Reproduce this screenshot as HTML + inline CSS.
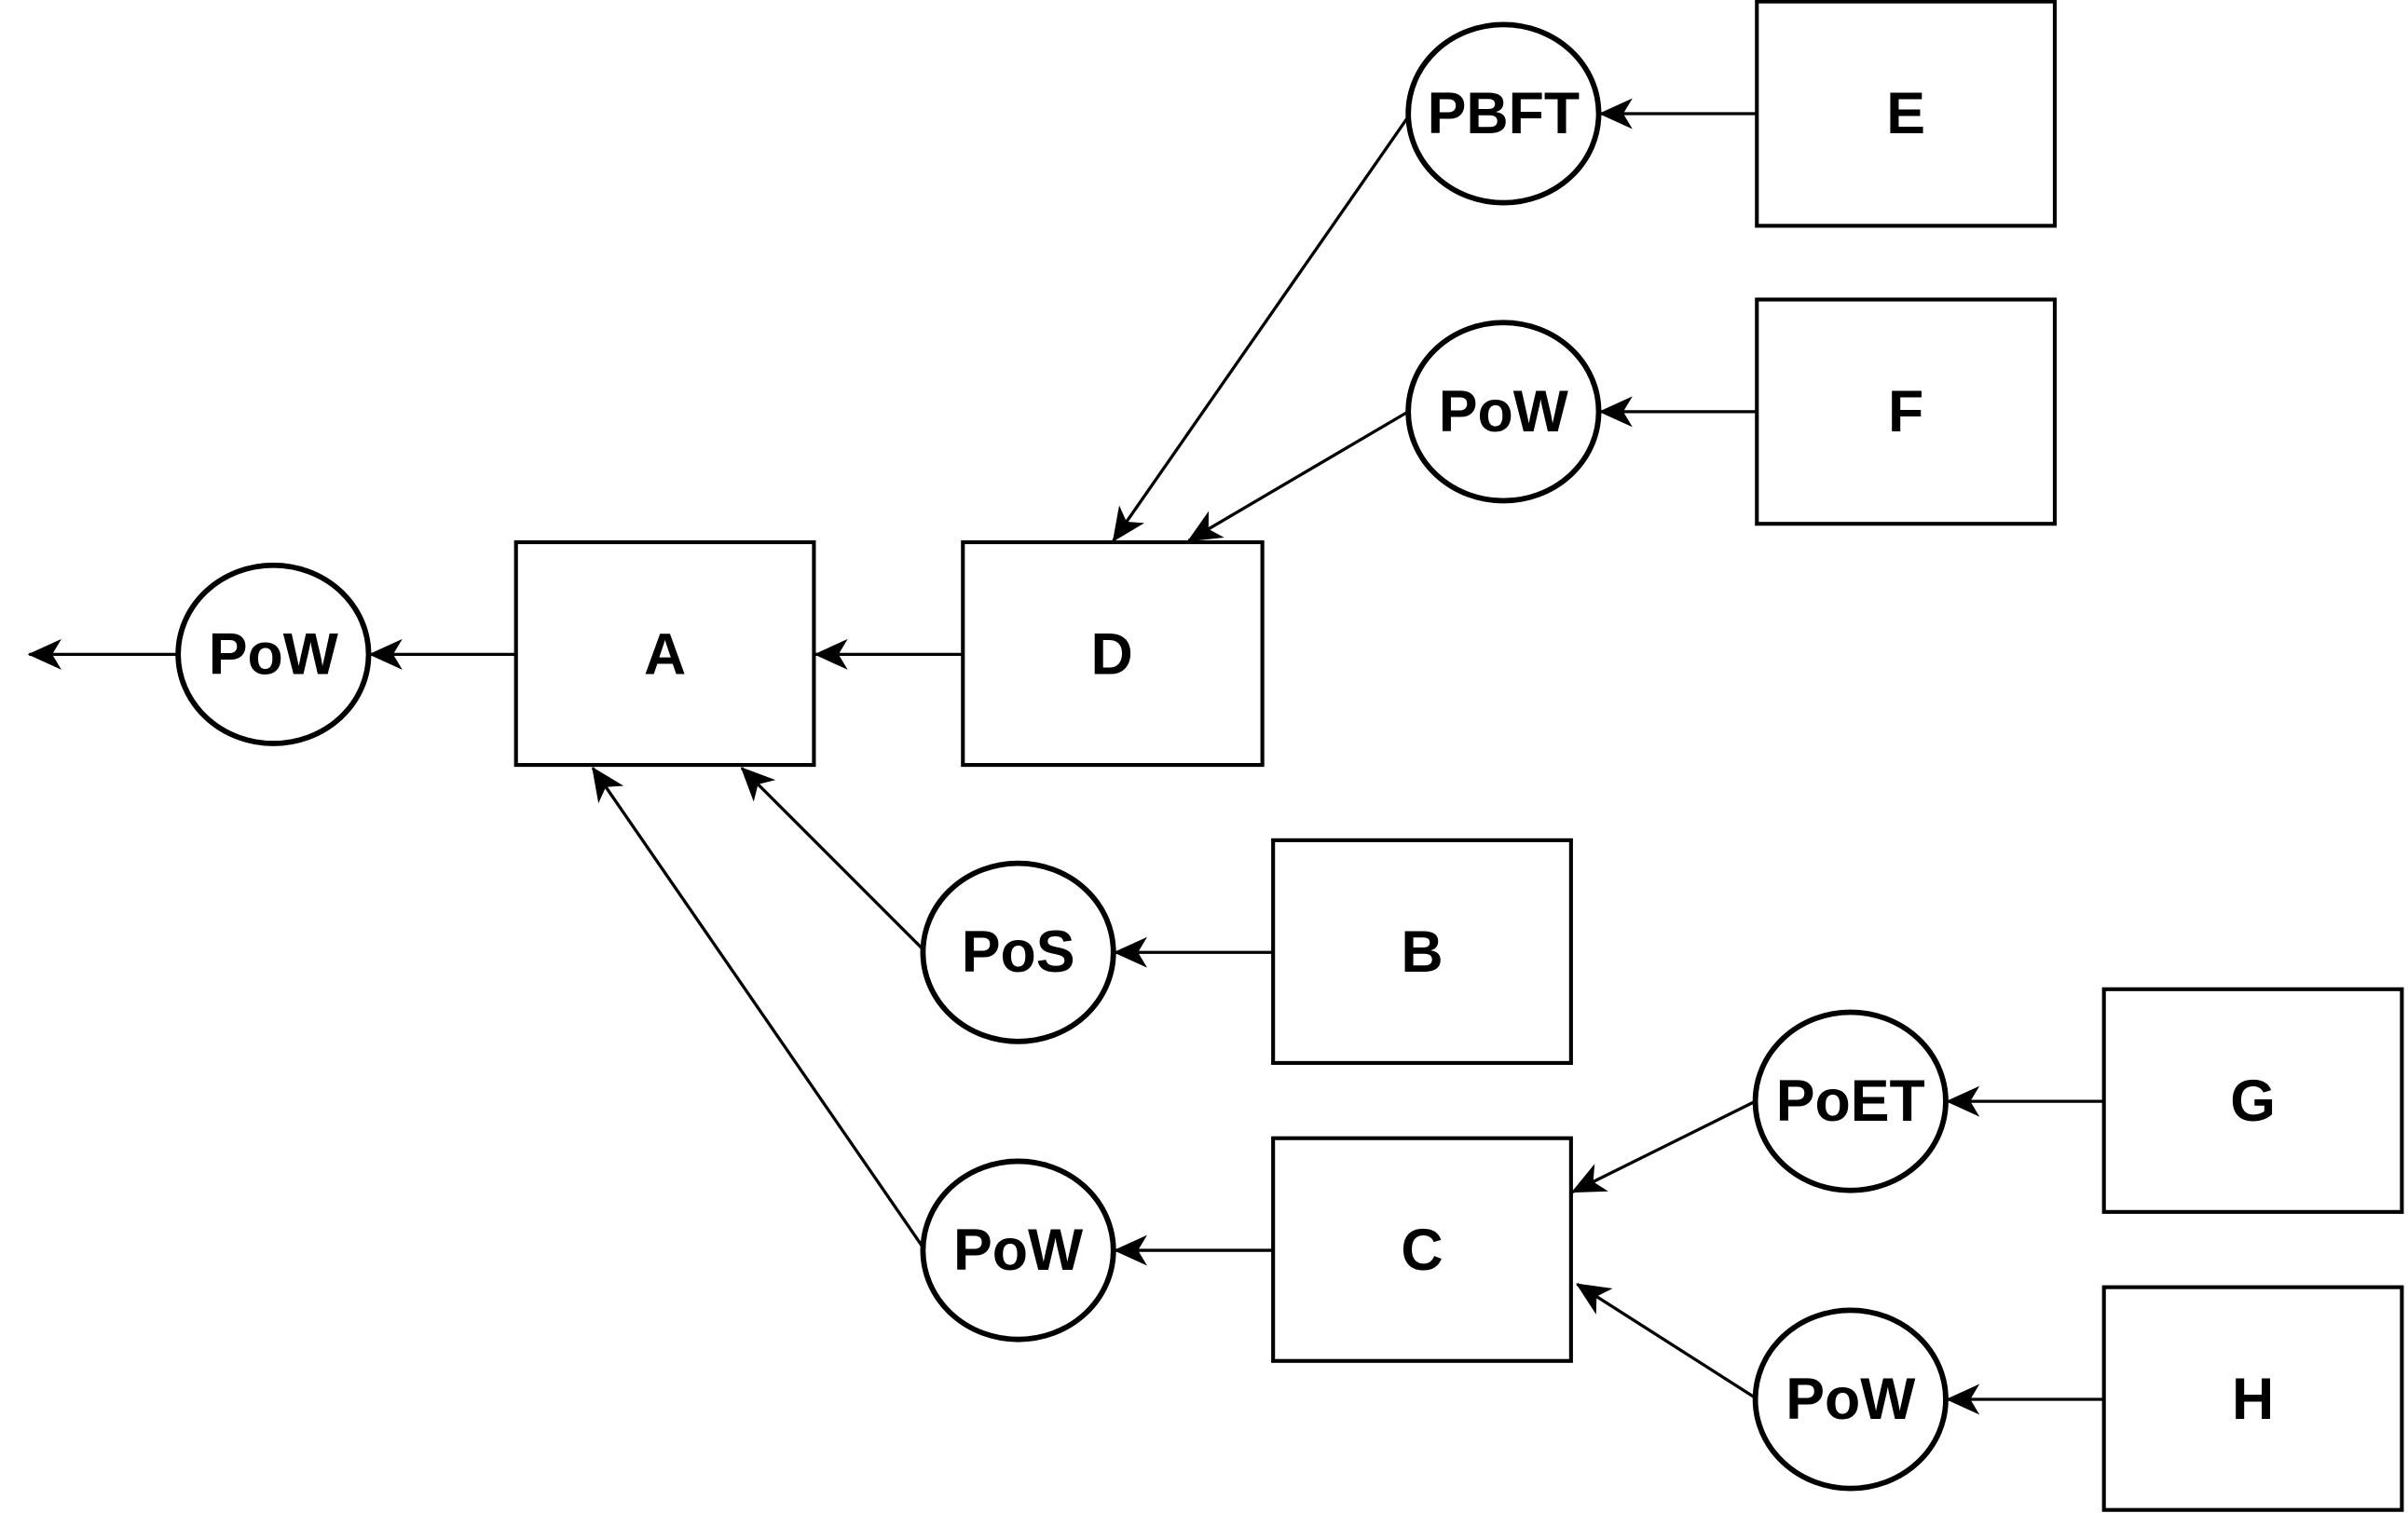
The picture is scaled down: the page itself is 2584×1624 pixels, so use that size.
<!DOCTYPE html>
<html>
<head>
<meta charset="utf-8">
<style>
html,body{margin:0;padding:0;background:#fff;}
svg{display:block;}
text{font-family:"Liberation Sans",Arial,sans-serif;font-weight:bold;font-size:38px;fill:#000;}
</style>
</head>
<body>
<svg width="2584" height="1624" viewBox="0 0 1568 985" preserveAspectRatio="none">
<defs>
<marker id="arr" viewBox="0 0 22 20" markerWidth="22" markerHeight="20" refX="21" refY="10" orient="auto" markerUnits="userSpaceOnUse">
<path d="M0,0 L22,10 L0,20 L6,10 z" fill="#000"/>
</marker>
</defs>
<g fill="#fff" stroke="#000" stroke-width="2.5">
<rect x="336" y="353" width="194" height="145"/>
<rect x="627" y="353" width="195" height="145"/>
<rect x="1144" y="1" width="194" height="146"/>
<rect x="1144" y="195" width="194" height="146"/>
<rect x="829" y="547" width="194" height="145"/>
<rect x="829" y="741" width="194" height="145"/>
<rect x="1370" y="644" width="194" height="145"/>
<rect x="1370" y="838" width="194" height="145"/>
</g>
<g fill="#fff" stroke="#000" stroke-width="3.5">
<ellipse cx="178" cy="426" rx="62" ry="58"/>
<ellipse cx="979" cy="74" rx="62" ry="58"/>
<ellipse cx="979" cy="268" rx="62" ry="58"/>
<ellipse cx="663" cy="620" rx="62" ry="58"/>
<ellipse cx="663" cy="814" rx="62" ry="58"/>
<ellipse cx="1205" cy="717" rx="62" ry="58"/>
<ellipse cx="1205" cy="911" rx="62" ry="58"/>
</g>
<g stroke="#000" stroke-width="2" fill="none" marker-end="url(#arr)">
<line x1="116" y1="426" x2="19" y2="426"/>
<line x1="336" y1="426" x2="241" y2="426"/>
<line x1="627" y1="426" x2="531" y2="426"/>
<line x1="1144" y1="74" x2="1042" y2="74"/>
<line x1="1144" y1="268" x2="1042" y2="268"/>
<line x1="917" y1="76" x2="725" y2="352"/>
<line x1="917" y1="268" x2="774" y2="352"/>
<line x1="601" y1="618" x2="483" y2="500"/>
<line x1="601" y1="812" x2="386" y2="500"/>
<line x1="829" y1="620" x2="726" y2="620"/>
<line x1="829" y1="814" x2="726" y2="814"/>
<line x1="1143" y1="717" x2="1024" y2="776"/>
<line x1="1143" y1="910" x2="1027" y2="836"/>
<line x1="1370" y1="717" x2="1268" y2="717"/>
<line x1="1370" y1="911" x2="1268" y2="911"/>
</g>
<g text-anchor="middle" dominant-baseline="central">
<text x="433" y="426">A</text>
<text x="724" y="426">D</text>
<text x="1241" y="74">E</text>
<text x="1241" y="268">F</text>
<text x="926" y="620">B</text>
<text x="926" y="814">C</text>
<text x="1467" y="717">G</text>
<text x="1467" y="911">H</text>
<text x="178" y="426">PoW</text>
<text x="979" y="74">PBFT</text>
<text x="979" y="268">PoW</text>
<text x="663" y="620">PoS</text>
<text x="663" y="814">PoW</text>
<text x="1205" y="717">PoET</text>
<text x="1205" y="911">PoW</text>
</g>
</svg>
</body>
</html>
